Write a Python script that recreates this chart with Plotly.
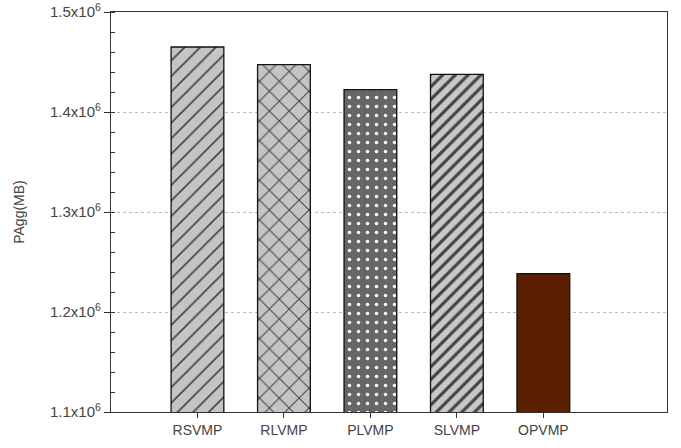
import plotly.graph_objects as go

categories = ["RSVMP", "RLVMP", "PLVMP", "SLVMP", "OPVMP"]
values = [1.465e6, 1.4474e6, 1.4224e6, 1.4377e6, 1.2384e6]
tick_vals = [1.1e6, 1.2e6, 1.3e6, 1.4e6, 1.5e6]
tick_text = ["1.1x10<sup>6</sup>", "1.2x10<sup>6</sup>", "1.3x10<sup>6</sup>",
             "1.4x10<sup>6</sup>", "1.5x10<sup>6</sup>"]

fills = ["#c4c4c4", "#c4c4c4", "#666666", "#c8c8c8", "#5a1f00"]
shapes = ["/", "x", ".", "/", ""]
fgcolors = ["#2a2a2a", "#2a2a2a", "#a8a8a8", "#454545", "#5a1f00"]
sizes = [11, 14, 9, 9, 8]
solidity = [0.15, 0.14, 0.12, 0.35, 0.2]

fig = go.Figure()
fig.add_trace(go.Bar(
    x=list(range(len(categories))), y=values, width=0.61,
    marker=dict(color=fills, line=dict(color="#111111", width=1.3),
                pattern=dict(shape=shapes, fgcolor=fgcolors, size=sizes,
                             solidity=solidity, fgopacity=1, fillmode="overlay")),
    showlegend=False,
))

fig.update_layout(
    width=681, height=448,
    margin=dict(l=111, r=14, t=12, b=36, autoexpand=False),
    plot_bgcolor="white", paper_bgcolor="white",
    font=dict(family="Liberation Sans, Arial, sans-serif", size=14, color="#444444"),
)
fig.update_xaxes(
    range=[-1.0, 5.43], tickvals=list(range(len(categories))), ticktext=categories,
    showline=True, linecolor="#333333", linewidth=1.2, mirror=True,
    ticks="outside", ticklen=5, tickcolor="#333333", showgrid=False, zeroline=False,
    automargin=False,
)
fig.update_yaxes(
    range=[1.1e6, 1.5e6], tickvals=tick_vals, ticktext=tick_text,
    tickfont=dict(size=15),
    showline=True, linecolor="#333333", linewidth=1.2, mirror=True,
    ticks="outside", ticklen=6, tickcolor="#333333",
    showgrid=True, gridcolor="#bdbdbd", griddash="dot", gridwidth=1.3,
    minor=dict(dtick=20000, ticks="inside", ticklen=4, tickcolor="#333333", showgrid=False),
    zeroline=False, automargin=False,
    title=dict(text="PAgg(MB)", standoff=22, font=dict(size=14, color="#444444")),
)

fig.write_html("out.html", config={"displayModeBar": False},
               post_script="document.body.style.margin='0';")
